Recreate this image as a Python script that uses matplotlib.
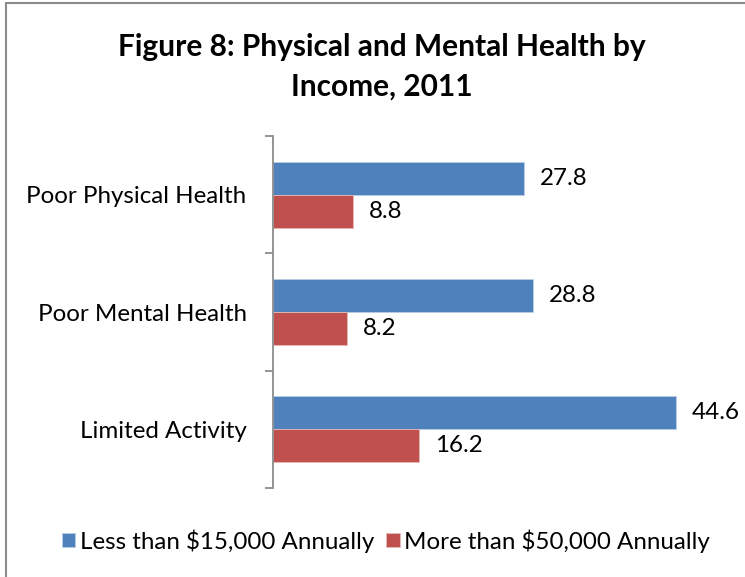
import matplotlib.pyplot as plt
import numpy as np
from matplotlib.patches import Rectangle

plt.rcParams['font.family'] = ['Lato', 'DejaVu Sans']

categories = ['Poor Physical Health', 'Poor Mental Health', 'Limited Activity']
low_income = [27.8, 28.8, 44.6]
high_income = [8.8, 8.2, 16.2]
series_names = ['Less than $15,000 Annually', 'More than $50,000 Annually']

blue = '#4F81BD'
red = '#C0504D'

fig = plt.figure(figsize=(7.45, 5.77), dpi=100)
ax = fig.add_axes([0.3664, 0.1542, 0.6066, 0.6101])

# chart frame (cut off on the right and bottom)
fig.patches.append(Rectangle((6 / 745, -0.1), 1.2, 1 - 3 / 577 + 0.1,
                             transform=fig.transFigure, fill=False,
                             edgecolor='#8c8c8c', linewidth=1.5))

y = np.arange(len(categories))
h = 0.282
b1 = ax.barh(y - h / 2, low_income, height=h, color=blue, edgecolor='#b9cde5',
             linewidth=0.6, label=series_names[0])
b2 = ax.barh(y + h / 2, high_income, height=h, color=red, edgecolor='#e6b9b8',
             linewidth=0.6, label=series_names[1])

for bars, vals in ((b1, low_income), (b2, high_income)):
    for bar, v in zip(bars, vals):
        ax.annotate(f'{v}', xy=(v, bar.get_y() + bar.get_height() / 2),
                    xytext=(11.5, 0), textcoords='offset points',
                    ha='left', va='center', fontsize=17.4)

ax.set_xlim(0, 50)
ax.set_ylim(2.5, -0.5)
ax.set_yticks([-0.5, 0.5, 1.5, 2.5])
ax.set_yticklabels([])
ax.set_yticks(y, minor=True)
ax.set_yticklabels(categories, minor=True, fontsize=17.4)
ax.tick_params(axis='y', which='major', length=5.5, width=1.3, color='#8c8c8c', direction='out')
ax.tick_params(axis='y', which='minor', length=0, pad=19)
ax.set_xticks([])
for s in ('top', 'right', 'bottom'):
    ax.spines[s].set_visible(False)
ax.spines['left'].set_color('#8c8c8c')
ax.spines['left'].set_linewidth(1.3)

cx = 382 / 745
fig.text(cx, 1 - 47 / 577, 'Figure 8: Physical and Mental Health by', ha='center',
         va='center', fontsize=21.5, fontweight='bold')
fig.text(cx, 1 - 87 / 577, 'Income, 2011', ha='center', va='center',
         fontsize=21.5, fontweight='bold')

fig.legend(handles=[b1, b2], loc='center', bbox_to_anchor=(386 / 745, 1 - 541 / 577),
           ncol=2, frameon=False, fontsize=17.4, handlelength=0.55, handleheight=0.55,
           handletextpad=0.2, columnspacing=0.5)

plt.savefig('out.png', dpi=100)
